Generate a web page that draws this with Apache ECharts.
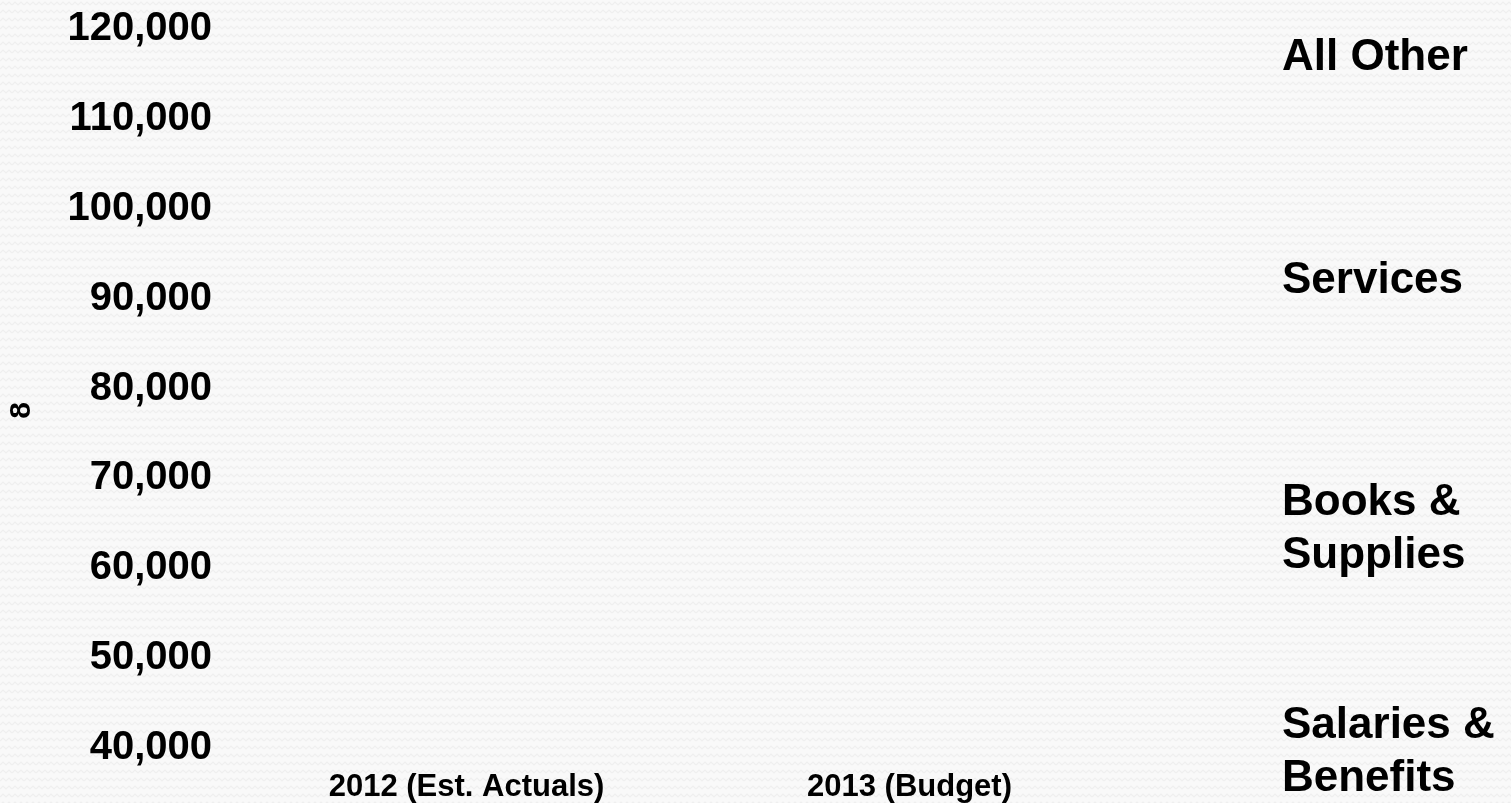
<!DOCTYPE html>
<html>
<head>
<meta charset="utf-8">
<script src="https://cdn.jsdelivr.net/npm/echarts@6/dist/echarts.min.js"></script>
<style>
  html, body { margin: 0; padding: 0; }
  #chart { width: 1511px; height: 803px; }
</style>
</head>
<body>
<div id="chart"></div>
<script>
// ---- data ----
const categories = ['2012 (Est. Actuals)', '2013 (Budget)'];
const seriesNames = ['Salaries & Benefits', 'Books & Supplies', 'Services', 'All Other'];
// No bars are visible in the reference picture; values left empty.
const salariesBenefits = [null, null];
const booksSupplies = [null, null];
const services = [null, null];
const allOther = [null, null];
const yMin = 40000, yMax = 120000, yStep = 10000;
const yAxisTitle = '8';

// ---- background texture ----
function makePattern() {
  const c = document.createElement('canvas');
  c.width = 12; c.height = 8;
  const g = c.getContext('2d');
  g.fillStyle = '#f9f9f9';
  g.fillRect(0, 0, 12, 8);
  g.strokeStyle = '#efefef';
  g.lineWidth = 1.2;
  g.beginPath();
  g.moveTo(0, 5); g.lineTo(3, 2); g.lineTo(6, 5); g.lineTo(9, 2); g.lineTo(12, 5);
  g.stroke();
  return c;
}

const labelMap = {
  'All Other': 'All Other',
  'Services': 'Services',
  'Books & Supplies': 'Books &\nSupplies',
  'Salaries & Benefits': 'Salaries &\nBenefits'
};
const legendTops = { 'All Other': 31, 'Services': 254, 'Books & Supplies': 476, 'Salaries & Benefits': 699 };
const FONT = '"Liberation Sans", Arial, sans-serif';

const legends = Object.keys(legendTops).map(n => ({
  data: [n],
  orient: 'vertical',
  left: 1277,
  top: legendTops[n],
  padding: 0,
  itemWidth: 0,
  itemHeight: 0,
  selectedMode: false,
  formatter: name => labelMap[name],
  textStyle: { fontFamily: FONT, fontWeight: 'bold', fontSize: 44, lineHeight: 53, color: '#000' }
}));

const dataBySeries = [salariesBenefits, booksSupplies, services, allOther];

const chart = echarts.init(document.getElementById('chart'));
chart.setOption({
  backgroundColor: { image: makePattern(), repeat: 'repeat' },
  animation: false,
  legend: legends,
  grid: { left: 245, right: 380, top: 29, bottom: 55, containLabel: false, outerBoundsMode: 'none' },
  xAxis: {
    type: 'category',
    data: categories,
    axisLine: { show: false },
    axisTick: { show: false },
    axisLabel: { margin: 24, fontFamily: FONT, fontWeight: 'bold', fontSize: 31, color: '#000' }
  },
  yAxis: {
    type: 'value',
    min: yMin, max: yMax, interval: yStep,
    name: yAxisTitle,
    nameLocation: 'middle',
    nameRotate: 90,
    nameGap: 208,
    nameTextStyle: { fontFamily: FONT, fontWeight: 'bold', fontSize: 30, color: '#000', padding: [0, 44, 0, 0] },
    axisLine: { show: false },
    axisTick: { show: false },
    splitLine: { show: false },
    axisLabel: {
      margin: 33,
      fontFamily: FONT, fontWeight: 'bold', fontSize: 40, color: '#000',
      formatter: v => v.toLocaleString('en-US')
    }
  },
  series: seriesNames.map((n, i) => ({
    name: n,
    type: 'bar',
    stack: 'total',
    data: dataBySeries[i],
    itemStyle: { color: 'rgba(0,0,0,0)' }
  }))
});
</script>
</body>
</html>
